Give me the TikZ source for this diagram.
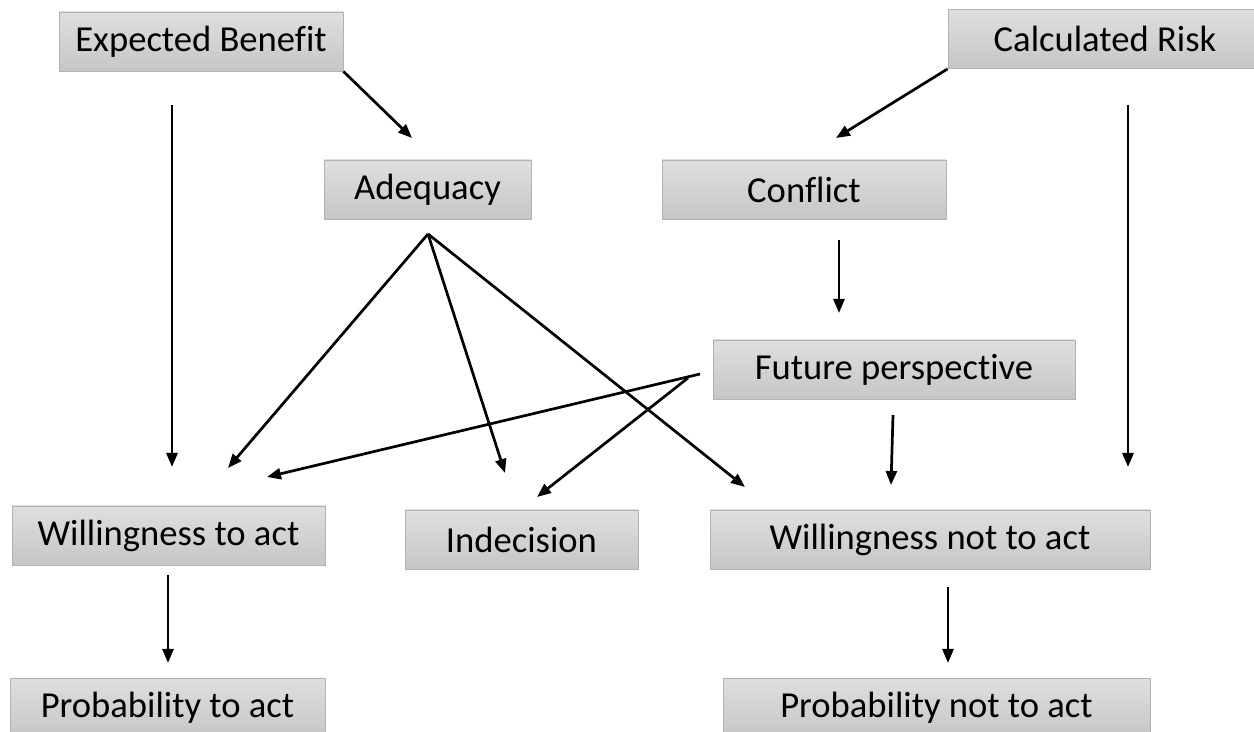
\documentclass[tikz,border=0pt]{standalone}
\usepackage{fontspec}
\setmainfont{Carlito}[Ligatures=NoCommon]
\usetikzlibrary{arrows.meta}
\begin{document}
\begin{tikzpicture}[x=0.5pt,y=-0.5pt,
    box/.style={draw=gray!60,top color=gray!25,bottom color=gray!45,
        minimum height=29.5pt,inner sep=0pt,font=\fontsize{18.3}{20}\selectfont},
    arr/.style={line width=1.35pt,-{Triangle[length=7pt,width=5.5pt]}}]
    \useasboundingbox (0,0) rectangle (1254,732);
    \clip (0,0) rectangle (1254,732);
    % boxes
    \node[box,minimum width=142pt] (eb) at (201,41.5) {Expected Benefit};
    \node[box,minimum width=157pt] (cr) at (1105,39) {Calculated Risk};
    \node[box,minimum width=103.5pt] (ad) at (427.5,189.5) {Adequacy};
    \node[box,minimum width=142pt] (co) at (804,189.5) {Conflict};
    \node[box,minimum width=181pt] (fp) at (894,369.5) {Future perspective};
    \node[box,minimum width=156.5pt] (wa) at (168.5,535.5) {Willingness to act};
    \node[box,minimum width=116.5pt] (id) at (521.5,539.5) {Indecision};
    \node[box,minimum width=220pt] (wn) at (930,539.5) {Willingness not to act};
    \node[box,minimum width=157.5pt] (pa) at (167.5,707.5) {Probability to act};
    \node[box,minimum width=213.5pt] (pn) at (936.5,707.5) {Probability not to act};
    % arrow ends
    \coordinate (adin) at (412,138);
    \coordinate (coin) at (836,138);
    \coordinate (ebout) at (172,105);
    \coordinate (crout) at (1128,105);
    \coordinate (waleft) at (172,467);
    \coordinate (waright) at (228,468);
    \coordinate (wafp) at (267,477);
    \coordinate (crend) at (1128,467);
    \coordinate (coout) at (839,240);
    \coordinate (fpin) at (839,313);
    \coordinate (adout) at (428,234);
    \coordinate (idad) at (505,473);
    \coordinate (idfp) at (537,497);
    \coordinate (wnad) at (745,487);
    \coordinate (fpout) at (700,374);
    \coordinate (fpout2) at (688,378);
    \coordinate (fpdown) at (893,415);
    \coordinate (wnfp) at (891,485);
    \coordinate (waout) at (168,575);
    \coordinate (pain) at (168,663);
    \coordinate (wnout) at (948,587);
    \coordinate (pnin) at (948,663);
    % arrows
    \draw[arr] (eb.south east) -- (adin);
    \draw[arr] (cr.south west) -- (coin);
    \draw[arr] (ebout) -- (waleft);
    \draw[arr] (crout) -- (crend);
    \draw[arr] (coout) -- (fpin);
    \draw[arr] (adout) -- (waright);
    \draw[arr] (adout) -- (idad);
    \draw[arr] (adout) -- (wnad);
    \draw[arr] (fpout) -- (wafp);
    \draw[arr] (fpout2) -- (idfp);
    \draw[arr] (fpdown) -- (wnfp);
    \draw[arr] (waout) -- (pain);
    \draw[arr] (wnout) -- (pnin);
\end{tikzpicture}
\end{document}
